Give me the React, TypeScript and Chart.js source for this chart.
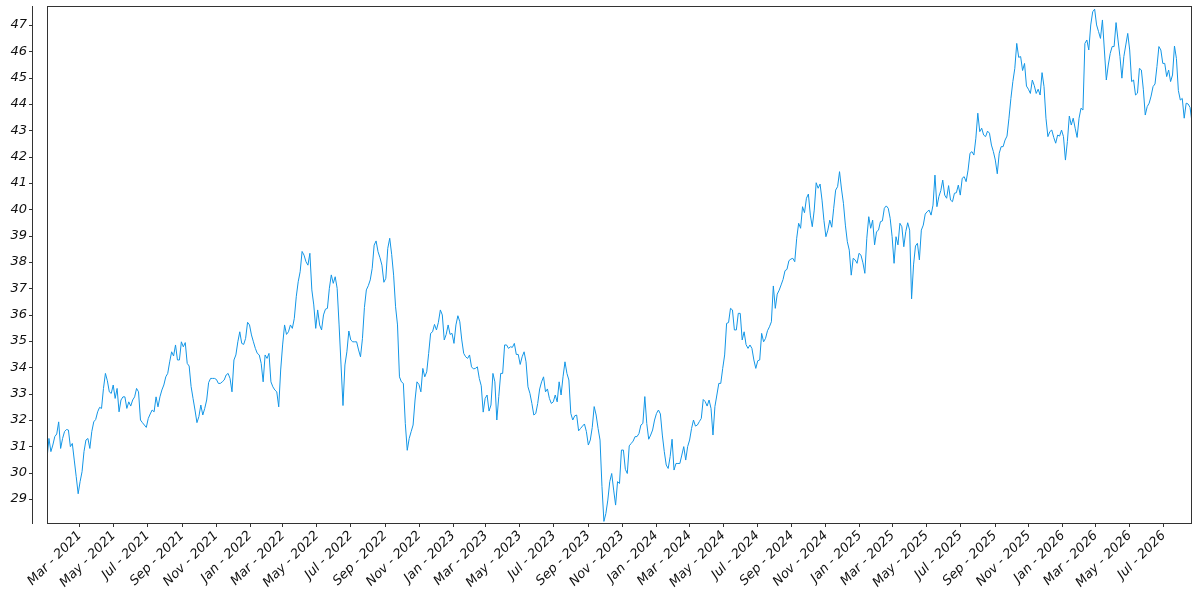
import React, { useEffect, useRef } from "react";
import { Chart, registerables } from "chart.js";

Chart.register(...registerables);

// Closing values, one every stepDays days from startDate
const startDate = "2021-01-01";
const stepDays = 3.5;

const values: number[] = [
  // 2021
  30.54, 31.30, 30.80, 31.05, 31.37, 31.47, 31.93, 30.92, 31.30, 31.56,
  31.64, 31.62, 30.99, 31.11, 30.48, 29.85, 29.20, 29.66, 30.04, 30.80,
  31.24, 31.30, 30.92, 31.56, 31.93, 32.02, 32.31, 32.48, 32.44, 33.20,
  33.77, 33.49, 33.07, 33.01, 33.33, 32.82, 33.20, 32.31, 32.76, 32.88,
  32.88, 32.44, 32.69, 32.53, 32.76, 32.88, 33.20, 33.07, 32.00, 31.90,
  31.81, 31.72, 32.06, 32.23, 32.38, 32.31, 32.88, 32.50, 32.88, 33.14,
  33.33, 33.64, 33.77, 34.21, 34.59, 34.43, 34.85, 34.28, 34.28, 34.97,
  34.78, 34.94, 34.15, 34.05, 33.27, 32.82, 32.38, 31.90, 32.13, 32.57,
  32.19, 32.44, 32.76, 33.42, 33.58, 33.58, 33.58, 33.54, 33.39, 33.39,
  // late 2021 - 2022
  33.45, 33.52, 33.71, 33.77, 33.58, 33.07, 34.28, 34.47, 34.97, 35.35,
  34.91, 34.87, 35.10, 35.71, 35.61, 35.23, 34.97, 34.72, 34.53, 34.47,
  34.15, 33.45, 34.47, 34.34, 34.53, 33.45, 33.26, 33.14, 33.07, 32.50,
  33.90, 34.85, 35.61, 35.25, 35.35, 35.61, 35.48, 35.86, 36.68, 37.25,
  37.63, 38.40, 38.26, 38.01, 37.88, 38.33, 36.94, 36.37, 35.48, 36.18,
  35.61, 35.42, 35.99, 36.21, 36.24, 37.00, 37.51, 37.19, 37.44, 37.00,
  35.61, 34.09, 32.55, 34.09, 34.59, 35.38, 35.04, 34.97, 34.97, 34.97,
  34.66, 34.40, 35.10, 36.27, 36.94, 37.10, 37.32, 37.76, 38.64, 38.80,
  38.39, 38.16, 37.88, 37.23, 37.38, 38.52, 38.90, 38.29,
  // late 2022 - 2023
  37.50, 36.30, 35.61, 33.64, 33.45, 33.39, 31.87, 30.85, 31.30, 31.56,
  31.81, 32.76, 33.45, 33.35, 33.07, 33.96, 33.64, 33.83, 34.53, 35.29,
  35.35, 35.63, 35.42, 35.71, 36.18, 35.99, 35.04, 35.25, 35.61, 35.25,
  35.29, 34.91, 35.61, 35.96, 35.73, 35.04, 34.53, 34.40, 34.34, 34.47,
  34.02, 33.94, 33.96, 34.02, 33.58, 33.30, 32.30, 32.82, 32.95, 32.34,
  32.57, 33.77, 33.45, 32.00, 32.89, 33.77, 33.77, 34.85, 34.85, 34.72,
  34.78, 34.76, 34.91, 34.49, 34.49, 34.11, 34.40, 34.59, 34.21, 33.26,
  33.01, 32.63, 32.19, 32.25, 32.63, 33.18, 33.45, 33.64, 33.07, 33.18,
  32.82, 32.63, 32.69, 32.95, 32.69, 33.45,
  // mid 2023 - mid 2024
  32.95, 33.64, 34.21, 33.77, 33.52, 32.25, 32.00, 32.16, 32.19, 31.59,
  31.68, 31.77, 31.85, 31.56, 31.05, 31.24, 31.72, 32.51, 32.19, 31.68,
  31.24, 29.47, 28.15, 28.45, 28.96, 29.66, 29.97, 29.34, 28.77, 29.66,
  29.59, 30.86, 30.86, 30.13, 29.97, 31.02, 31.11, 31.20, 31.37, 31.37,
  31.49, 31.81, 31.87, 32.89, 31.87, 31.27, 31.43, 31.62, 32.00, 32.25,
  32.38, 32.23, 31.43, 30.80, 30.29, 30.16, 30.61, 31.27, 30.10, 30.35,
  30.35, 30.35, 30.67, 30.99, 30.48, 30.99, 31.24, 31.68, 32.00, 31.77,
  31.81, 31.94, 32.06, 32.78, 32.70, 32.53, 32.76, 32.44, 31.43, 32.51,
  32.95, 33.39, 33.39, 33.96, 34.47, 35.67, 35.70, 36.24,
  // mid 2024 - mid 2025
  36.18, 35.42, 35.42, 36.05, 36.05, 35.04, 35.35, 34.86, 34.72, 34.85,
  34.72, 34.28, 33.96, 34.25, 34.28, 35.29, 34.97, 35.10, 35.39, 35.54,
  35.73, 37.09, 36.24, 36.78, 36.93, 37.13, 37.34, 37.67, 37.72, 38.05,
  38.11, 38.14, 38.01, 38.90, 39.47, 39.28, 40.10, 39.87, 40.42, 40.58,
  39.78, 39.34, 39.97, 41.01, 40.80, 40.96, 40.35, 39.57, 38.96, 39.21,
  39.59, 39.32, 40.04, 40.73, 40.86, 41.43, 40.77, 40.23, 39.40, 38.77,
  38.45, 37.50, 38.14, 38.08, 37.95, 38.33, 38.26, 37.97, 37.57, 38.90,
  39.72, 39.28, 39.59, 38.65, 39.15, 39.21, 39.53, 39.56, 40.04, 40.13,
  40.04, 39.66, 38.96, 37.95, 38.96, 38.65, 39.47, 39.34,
  // mid 2025 - early 2026
  38.58, 39.15, 39.49, 39.21, 36.60, 37.89, 38.61, 38.71, 38.08, 39.21,
  39.40, 39.82, 39.91, 39.97, 39.78, 40.16, 41.30, 40.10, 40.48, 40.71,
  41.11, 40.54, 40.42, 40.90, 40.35, 40.29, 40.61, 40.63, 40.92, 40.54,
  41.18, 41.24, 41.05, 41.49, 42.13, 42.19, 42.06, 42.70, 43.65, 42.95,
  43.08, 42.82, 42.76, 42.97, 42.89, 42.44, 42.19, 41.87, 41.35, 42.13,
  42.38, 42.38, 42.63, 42.78, 43.46, 44.21, 44.85, 45.35, 46.30, 45.77,
  45.80, 45.27, 45.54, 44.68, 44.56, 44.40, 44.91, 44.70, 44.40, 44.56,
  44.34, 45.19, 44.66, 43.46, 42.76, 42.95, 43.01, 42.73, 42.51, 42.82,
  42.78, 43.01, 42.76, 41.87, 42.57, 43.54, 43.20, 43.46,
  // 2026
  43.08, 42.73, 43.46, 43.84, 43.77, 46.30, 46.43, 46.05, 47.00, 47.50,
  47.60, 47.00, 46.75, 46.49, 47.19, 46.05, 44.91, 45.48, 45.92, 46.18,
  46.18, 47.09, 46.43, 45.80, 44.98, 45.80, 46.24, 46.68, 46.05, 44.85,
  44.91, 44.34, 44.41, 45.35, 45.29, 44.56, 43.58, 43.90, 44.03, 44.30,
  44.66, 44.76, 45.42, 46.18, 46.05, 45.54, 45.54, 45.04, 45.29, 44.85,
  45.10, 46.20, 45.73, 44.51, 44.15, 44.21, 43.46, 44.03, 44.00, 43.87,
  43.30,
];

const tickDates: string[] = [
  "2021-03-01", "2021-05-01", "2021-07-01", "2021-09-01", "2021-11-01",
  "2022-01-01", "2022-03-01", "2022-05-01", "2022-07-01", "2022-09-01", "2022-11-01",
  "2023-01-01", "2023-03-01", "2023-05-01", "2023-07-01", "2023-09-01", "2023-11-01",
  "2024-01-01", "2024-03-01", "2024-05-01", "2024-07-01", "2024-09-01", "2024-11-01",
  "2025-01-01", "2025-03-01", "2025-05-01", "2025-07-01", "2025-09-01", "2025-11-01",
  "2026-01-01", "2026-03-01", "2026-05-01", "2026-07-01",
];

const yTicks: number[] = [29, 30, 31, 32, 33, 34, 35, 36, 37, 38, 39, 40, 41, 42, 43, 44, 45, 46, 47];
const monthNames = ["Jan", "Feb", "Mar", "Apr", "May", "Jun", "Jul", "Aug", "Sep", "Oct", "Nov", "Dec"];

const yMin = 28.09;
const yMax = 47.72;
const lineColor = "#1396e6";
const axisColor = "#333333";
const fontSpec = { family: "'DejaVu Sans', sans-serif", size: 13, style: "italic" as const };

const DAY = 86400000;

function fmtDate(v: number): string {
  const d = new Date(v);
  return `${monthNames[d.getUTCMonth()]} - ${d.getUTCFullYear()}`;
}

const framePlugin = {
  id: "frame",
  afterDraw(chart: any) {
    const { ctx, chartArea } = chart;
    const { left, right, top, bottom } = chartArea;
    ctx.save();
    ctx.strokeStyle = axisColor;
    ctx.lineWidth = 1;
    ctx.strokeRect(Math.round(left) + 0.5, Math.round(top) + 0.5, Math.round(right - left) - 1, Math.round(bottom - top));
    const ax = Math.round(left - 15) + 0.5;
    ctx.beginPath();
    ctx.moveTo(ax, Math.round(top));
    ctx.lineTo(ax, Math.round(bottom) + 1);
    const ys = chart.scales.y;
    for (const t of yTicks) {
      const py = Math.round(ys.getPixelForValue(t)) + 0.5;
      ctx.moveTo(ax - 3.5, py);
      ctx.lineTo(ax, py);
    }
    ctx.stroke();
    ctx.restore();
  },
};

export default function App() {
  const ref = useRef<HTMLCanvasElement | null>(null);

  useEffect(() => {
    if (!ref.current) return;
    const t0 = Date.parse(startDate);
    const points = values.map((v, i) => ({ x: t0 + i * stepDays * DAY, y: v }));
    const chart = new Chart(ref.current, {
      type: "line",
      data: {
        datasets: [
          {
            data: points,
            borderColor: lineColor,
            borderWidth: 1,
            pointRadius: 0,
            tension: 0,
            fill: false,
          },
        ],
      },
      options: {
        animation: false,
        responsive: false,
        devicePixelRatio: 1,
        layout: { padding: { top: 6, right: 8, left: 0, bottom: 0 } },
        plugins: { legend: { display: false }, tooltip: { enabled: false } },
        scales: {
          x: {
            type: "linear",
            min: points[0].x,
            max: points[points.length - 1].x,
            afterBuildTicks: (s: any) => {
              s.ticks = tickDates.map((d) => ({ value: Date.parse(d) }));
            },
            afterFit: (s: any) => {
              s.height = 77;
              s.paddingLeft = 0;
              s.paddingRight = 0;
            },
            grid: { drawOnChartArea: false, tickLength: 4, color: axisColor },
            border: { display: false },
            ticks: {
              autoSkip: false,
              minRotation: 45,
              maxRotation: 45,
              padding: 1,
              color: "#111111",
              font: fontSpec,
              callback: (v: any) => fmtDate(Number(v)),
            },
          },
          y: {
            type: "linear",
            min: yMin,
            max: yMax,
            afterBuildTicks: (s: any) => {
              s.ticks = yTicks.map((v) => ({ value: v }));
            },
            afterFit: (s: any) => {
              s.width = 47;
              s.paddingTop = 0;
              s.paddingBottom = 0;
            },
            grid: { drawOnChartArea: false, tickLength: 15, color: "rgba(0,0,0,0)" },
            border: { display: false },
            ticks: {
              padding: 5,
              color: "#111111",
              font: fontSpec,
              callback: (v: any) => String(v),
            },
          },
        },
      },
      plugins: [framePlugin],
    });
    return () => chart.destroy();
  }, []);

  return (
    <div style={{ position: "fixed", left: 0, top: 0, width: 1200, height: 600, background: "#fff" }}>
      <canvas ref={ref} width={1200} height={600} />
    </div>
  );
}
